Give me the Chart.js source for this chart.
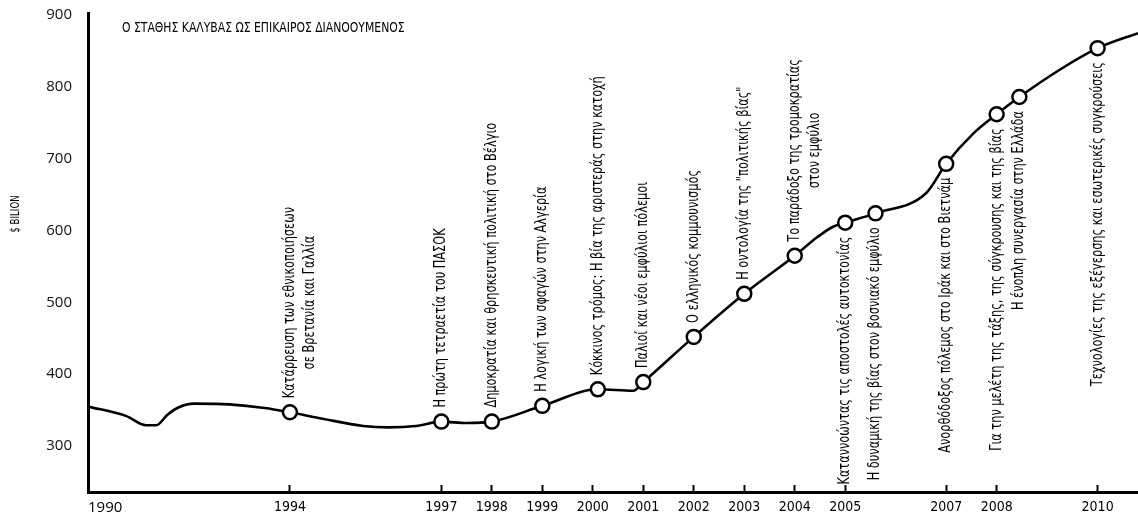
<!DOCTYPE html>
<html>
<head>
<meta charset="utf-8">
<script src="https://cdn.jsdelivr.net/npm/chart.js@4.4.1/dist/chart.umd.min.js"></script>
<style>
  html, body { margin: 0; padding: 0; background: #fff; overflow: hidden; }
  #wrap { width: 1138px; height: 515px; position: relative; }
</style>
</head>
<body>
<div id="wrap"><canvas id="kalyvasChart"></canvas></div>
<script>
const xTickYears = [1990, 1994, 1997, 1998, 1999, 2000, 2001, 2002, 2003, 2004, 2005, 2007, 2008, 2010];
const yTickValues = [300, 400, 500, 600, 700, 800, 900];

// publications (markers on the curve)
const eventYears = [1994, 1997, 1998, 1999, 2000.1, 2001, 2002, 2003, 2004, 2005, 2005.6, 2007, 2008, 2008.45, 2010];
const eventValues = [347, 334, 334, 356, 379, 389, 452, 512, 565, 611, 624, 693, 762, 786, 854];
const eventSides = ['up', 'up', 'up', 'up', 'up', 'up', 'up', 'up', 'up', 'down', 'down', 'down', 'down', 'down', 'down'];
const eventTitles = [
  ['Κατάρρευση των εθνικοποιήσεων', 'σε Βρετανία και Γαλλία'],
  ['Η πρώτη τετραετία του ΠΑΣΟΚ'],
  ['Δημοκρατία και θρησκευτική πολιτική στο Βέλγιο'],
  ['Η λογική των σφαγών στην Αλγερία'],
  ['Κόκκινος τρόμος: Η βία της αριστεράς στην κατοχή'],
  ['Παλιοί και νέοι εμφύλιοι πόλεμοι'],
  ['Ο ελληνικός κομμουνισμός'],
  ['Η οντολογία της "πολιτικής βίας"'],
  ['Το παράδοξο της τρομοκρατίας', 'στον εμφύλιο'],
  ['Καταννοώντας τις αποστολές αυτοκτονίας'],
  ['Η δυναμική της βίας στον βοσνιακό εμφύλιο'],
  ['Ανορθόδοξος πόλεμος στο Ιράκ και στο Βιετνάμ'],
  ['Για την μελέτη της τάξης, της σύγκρουσης και της βίας'],
  ['Η ένοπλη συνεργασία στην Ελλάδα'],
  ['Τεχνολογίες της εξέγερσης και εσωτερικές συγκρούσεις']
];

// extra points of the curve between markers
const pathYears = [1990, 1990.75, 1991.15, 1991.35, 1991.58, 1991.8, 1992.1, 1992.8, 1993.5, 1994.65, 1995.45, 1995.95, 1996.5, 1997.5, 2000.8, 2004.45, 2004.75, 2006.6, 2007.55, 2009.25, 2010.8];
const pathValues = [355, 342, 329, 329, 344, 354, 359, 358, 353, 338, 328, 326, 328, 332, 377, 591, 605, 652, 736, 824, 875];

const narrow = "'Liberation Sans Narrow', 'DejaVu Sans Condensed', Roboto, sans-serif";
const regular = "'Open Sans', 'Noto Sans', sans-serif";
const xMax = 2010.8;

const markers = eventYears.map((yr, i) => ({ x: yr, y: eventValues[i] }));
const curve = pathYears.map((yr, i) => ({ x: yr, y: pathValues[i] }))
  .concat(markers)
  .sort((a, b) => a.x - b.x);

// draws text squeezed along its reading direction (the original uses a condensed face)
function squeezedText(ctx, text, x, y, squeeze) {
  ctx.save();
  ctx.translate(x, y);
  ctx.scale(squeeze, 1);
  ctx.fillText(text, 0, 0);
  ctx.restore();
}

function noPadding(s) {
  s.paddingLeft = 0;
  s.paddingRight = 0;
  s.paddingTop = 0;
  s.paddingBottom = 0;
}

const labelsPlugin = {
  id: 'eventLabels',
  afterDatasetsDraw(chart) {
    const { ctx, scales: { x, y } } = chart;
    const sq = 0.84;
    ctx.save();
    ctx.fillStyle = '#000';
    ctx.textBaseline = 'middle';
    ctx.font = '15px ' + narrow;
    eventYears.forEach((yr, i) => {
      const px = x.getPixelForValue(yr);
      const py = y.getPixelForValue(eventValues[i]);
      const lines = eventTitles[i];
      const up = eventSides[i] === 'up';
      const widths = lines.map(l => ctx.measureText(l).width * sq);
      const maxW = Math.max(...widths);
      ctx.save();
      ctx.translate(px, up ? py - 14 : py + 14);
      ctx.rotate(-Math.PI / 2);
      lines.forEach((l, j) => {
        const off = (maxW - widths[j]) / 2;
        if (up) {
          ctx.textAlign = 'left';
          squeezedText(ctx, l, off, j * 20, sq);
        } else {
          ctx.textAlign = 'right';
          squeezedText(ctx, l, -off, j * 20, sq);
        }
      });
      ctx.restore();
    });

    ctx.font = '14px ' + narrow;
    ctx.textAlign = 'left';
    squeezedText(ctx, 'Ο ΣΤΑΘΗΣ ΚΑΛΥΒΑΣ ΩΣ ΕΠΙΚΑΙΡΟΣ ΔΙΑΝΟΟΥΜΕΝΟΣ', chart.chartArea.left + 34, 28, 0.86);

    ctx.translate(16, 214);
    ctx.rotate(-Math.PI / 2);
    ctx.textAlign = 'center';
    ctx.font = '12px ' + narrow;
    squeezedText(ctx, '$ BILION', 0, 0, 0.8);
    ctx.restore();
  }
};

document.addEventListener('DOMContentLoaded', () => {
  const ctx = document.getElementById('kalyvasChart').getContext('2d');
  new Chart(ctx, {
    type: 'scatter',
    data: {
      datasets: [{
        label: 'Βιβλία',
        data: markers,
        pointRadius: 7,
        pointHoverRadius: 7,
        borderWidth: 2.5,
        borderColor: '#000',
        backgroundColor: '#fff'
      }, {
        type: 'line',
        label: 'Καμπύλη',
        data: curve,
        borderColor: '#000',
        borderWidth: 2.6,
        pointRadius: 0,
        fill: false,
        cubicInterpolationMode: 'monotone'
      }]
    },
    options: {
      responsive: true,
      maintainAspectRatio: false,
      animation: false,
      devicePixelRatio: 1,
      layout: { autoPadding: false, padding: { top: 13, right: 0, bottom: 0, left: 0 } },
      plugins: { legend: { display: false }, tooltip: { enabled: false } },
      scales: {
        x: {
          type: 'linear',
          min: 1990,
          max: xMax,
          afterBuildTicks: s => { s.ticks = xTickYears.concat([xMax]).map(v => ({ value: v })); },
          afterFit: s => { s.height = 23; noPadding(s); },
          ticks: {
            align: 'inner',
            autoSkip: false,
            maxRotation: 0,
            padding: 14,
            color: '#000',
            font: c => (c.tick && c.tick.value === 1990) ? { family: regular, size: 15 } : { family: narrow, size: 14 },
            callback: v => xTickYears.includes(v) ? String(v) : ''
          },
          grid: {
            drawOnChartArea: false,
            tickLength: -7,
            tickWidth: 2,
            tickColor: c => (c.tick && xTickYears.includes(c.tick.value) && c.tick.value !== 1990) ? '#000' : 'rgba(0,0,0,0)'
          },
          border: { color: '#000', width: 3 }
        },
        y: {
          min: 236,
          max: 903,
          afterBuildTicks: s => { s.ticks = yTickValues.map(v => ({ value: v })); },
          afterFit: s => { s.width = 88; noPadding(s); },
          ticks: {
            padding: 16,
            color: '#111',
            font: { family: regular, size: 15 }
          },
          grid: { drawOnChartArea: false, drawTicks: false },
          border: { color: '#000', width: 3 }
        }
      }
    },
    plugins: [labelsPlugin]
  });
});
</script>
</body>
</html>
